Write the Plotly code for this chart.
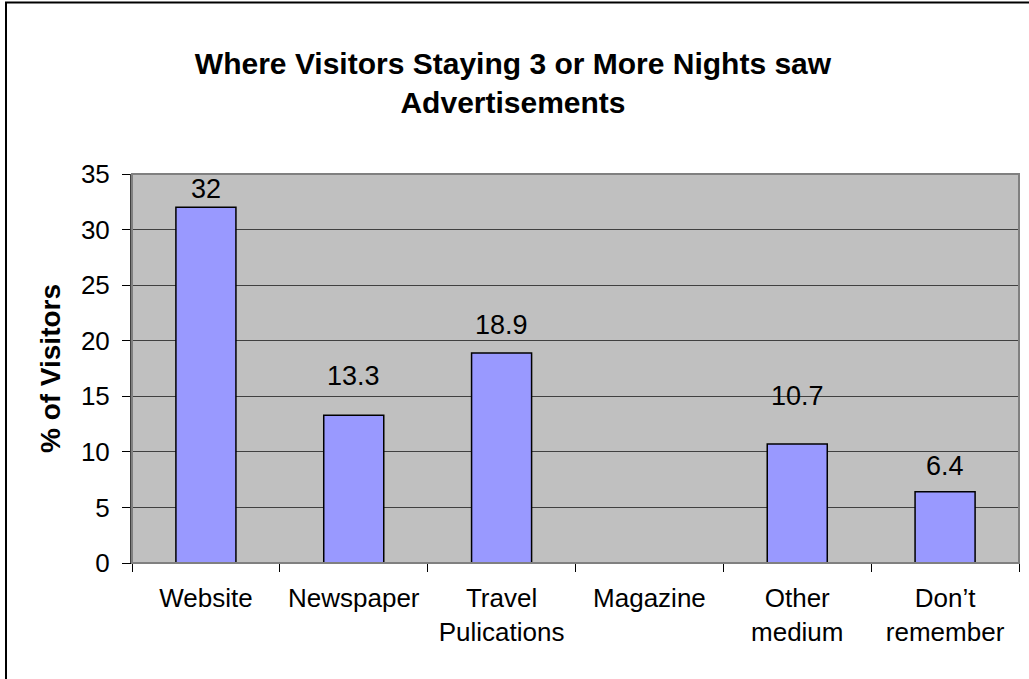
import plotly.graph_objects as go

# Survey results: share of visitors (%) by where they saw advertisements
categories = ["Website", "Newspaper", "Travel<br>Pulications", "Magazine", "Other<br>medium", "Don’t<br>remember"]
percent_visitors = [32, 13.3, 18.9, None, 10.7, 6.4]
value_labels = ["32", "13.3", "18.9", "", "10.7", "6.4"]
y_ticks = [0, 5, 10, 15, 20, 25, 30, 35]

# Pixel lift of each value label above its bar top
label_lift_px = [18, 39, 28, 0, 48, 26]

W, H = 1029, 679
ML, MR, MT, MB = 132, 10, 174, 116
pw, ph = W - ML - MR, H - MT - MB

font_family = "Liberation Sans, Arial, sans-serif"

fig = go.Figure(
    go.Bar(
        x=categories,
        y=percent_visitors,
        marker=dict(color="#9999FF", line=dict(color="black", width=1.5)),
        hoverinfo="x+y",
    )
)

# Value labels placed above the bars
for cat, val, txt, lift in zip(categories, percent_visitors, value_labels, label_lift_px):
    if val is None or not txt:
        continue
    fig.add_annotation(
        x=cat, y=val, xref="x", yref="y",
        text=txt, showarrow=False,
        xanchor="center", yanchor="middle", yshift=lift,
        font=dict(size=27, color="black", family=font_family),
    )

fig.update_layout(
    width=W,
    height=H,
    margin=dict(l=ML, r=MR, t=MT, b=MB, pad=0),
    paper_bgcolor="white",
    plot_bgcolor="#C0C0C0",
    bargap=0.594,
    showlegend=False,
    font=dict(family=font_family, color="black"),
    title=dict(
        text="<b>Where Visitors Staying 3 or More Nights saw<br>Advertisements</b>",
        x=(513 - ML) / pw,
        xref="paper",
        xanchor="center",
        y=1 - 74 / H,
        yanchor="middle",
        yref="container",
        font=dict(size=30, family=font_family, color="black"),
    ),
)

fig.update_xaxes(
    type="category",
    tickson="boundaries",
    ticks="outside",
    ticklen=8,
    tickcolor="black",
    tickwidth=1,
    tickfont=dict(size=26, family=font_family, color="black"),
    showgrid=False,
    showline=True,
    linecolor="black",
    linewidth=1,
    ticklabelstandoff=12,
)

fig.update_yaxes(
    range=[0, 35],
    tickvals=y_ticks,
    ticks="outside",
    ticklen=8,
    tickcolor="black",
    tickwidth=1,
    tickfont=dict(size=26, family=font_family, color="black"),
    showgrid=True,
    gridcolor="#404040",
    gridwidth=1,
    zeroline=False,
    showline=True,
    linecolor="#404040",
    linewidth=2,
    ticklabelstandoff=7,
    title=dict(
        text="<b>% of Visitors</b>",
        font=dict(size=28, family=font_family, color="black"),
        standoff=12,
    ),
)

# Plot-area border (top and right edges)
fig.add_shape(
    type="rect", xref="paper", yref="paper", x0=0, y0=0, x1=1, y1=1,
    line=dict(color="#808080", width=2), layer="above",
)

# Outer chart frame
fig.add_shape(
    type="rect", xref="paper", yref="paper",
    x0=(6 - ML) / pw, y0=-(H - MT - ph + 20) / ph,
    x1=1 + 30 / pw, y1=(ph + MT - 2.5) / ph,
    line=dict(color="black", width=2), layer="above",
)

fig.write_html("out.html")
